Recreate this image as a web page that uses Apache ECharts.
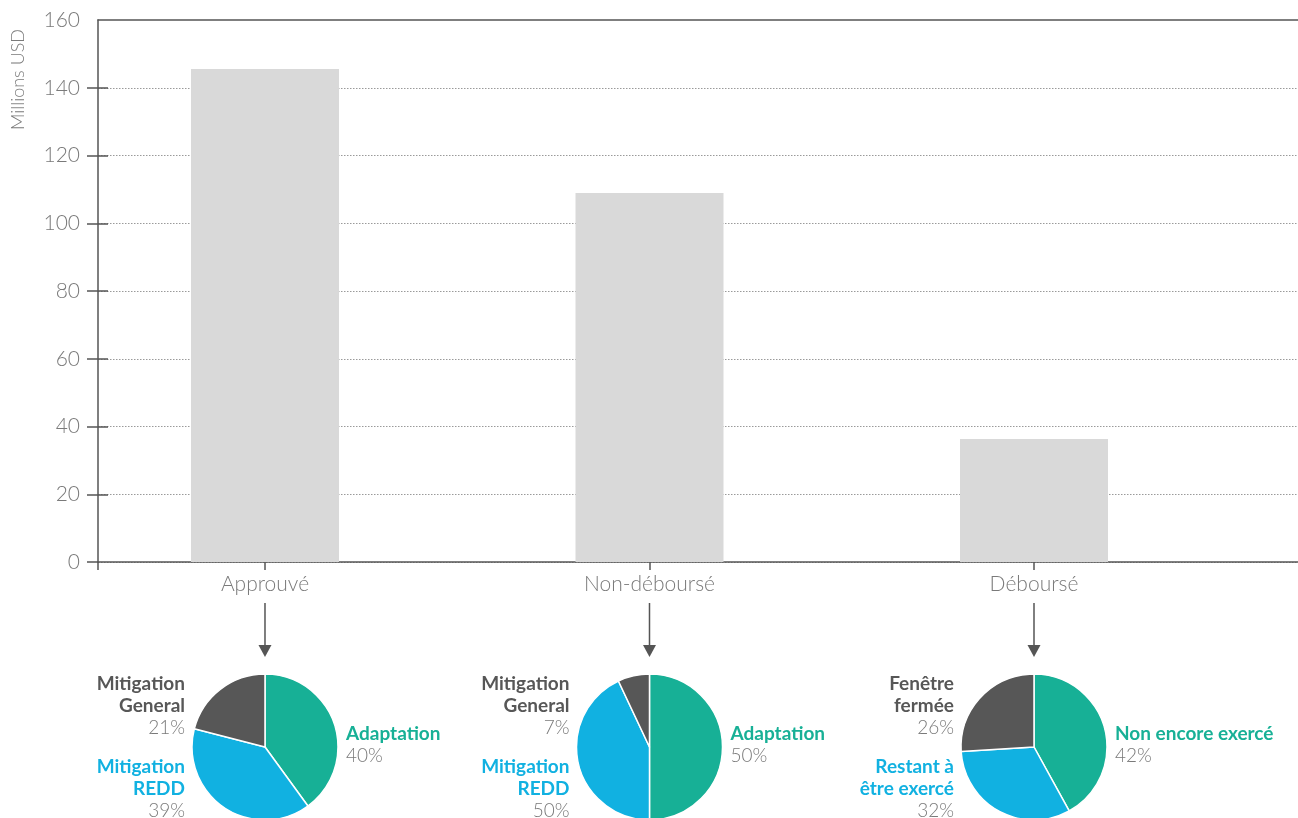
<!DOCTYPE html>
<html>
<head>
<meta charset="utf-8">
<script src="https://cdn.jsdelivr.net/npm/echarts@6/dist/echarts.min.js"></script>
<style>
html,body{margin:0;padding:0;background:#fff;}
#c{width:1298px;height:818px;}
</style>
</head>
<body>
<div id="c"></div>
<script>
// ---- data ----
const categories = ['Approuvé', 'Non-déboursé', 'Déboursé'];
const barValues = [145.5, 108.9, 36.3];
const yAxisName = 'Millions USD';

const pie1Names = ['Adaptation', 'Mitigation\nREDD', 'Mitigation\nGeneral'];
const pie1Values = [40, 39, 21];
const pie1Labels = ['40%', '39%', '21%'];

const pie2Names = ['Adaptation', 'Mitigation\nREDD', 'Mitigation\nGeneral'];
const pie2Values = [50, 43, 7];
const pie2Labels = ['50%', '50%', '7%'];

const pie3Names = ['Non encore exercé', 'Restant à\nêtre exercé', 'Fenêtre\nfermée'];
const pie3Values = [42, 32, 26];
const pie3Labels = ['42%', '32%', '26%'];

// ---- styles ----
const FONT = 'Lato';
const TEAL = '#17b096';
const BLUE = '#11b1e1';
const DARK = '#575757';
const GREY_TXT = '#7a7a7a';
const sliceColors = [TEAL, BLUE, DARK];

const gridLeft = 98, gridTop = 20, gridBottom = 256;
const xMin = -0.4343, xMax = 2.6866;
const pieY = 747, pieR = 73;

const chart = echarts.init(document.getElementById('c'), null, {renderer: 'canvas'});

function xPix(v) {
  return chart.convertToPixel({xAxisIndex: 0}, v);
}

const pies = [
  {names: pie1Names, values: pie1Values, labels: pie1Labels},
  {names: pie2Names, values: pie2Values, labels: pie2Labels},
  {names: pie3Names, values: pie3Values, labels: pie3Labels}
];

const option = {
  animation: false,
  backgroundColor: '#fff',
  grid: {left: gridLeft, top: gridTop, right: 0, bottom: gridBottom, containLabel: false},
  xAxis: [{
    type: 'value', min: xMin, max: xMax,
    axisLine: {show: true, onZero: false, lineStyle: {color: '#555', width: 1.5}},
    axisTick: {show: true, length: 8, customValues: [xMin, 0, 1, 2], lineStyle: {color: '#555', width: 1.5}},
    axisLabel: {
      show: true, customValues: [0, 1, 2], margin: 12,
      formatter: v => categories[Math.round(v)] || '',
      fontFamily: FONT, fontWeight: 300, fontSize: 21, color: GREY_TXT
    },
    splitLine: {show: false}
  }, {
    type: 'value', min: xMin, max: xMax, position: 'top',
    axisLine: {show: true, onZero: false, lineStyle: {color: '#555', width: 1.5}},
    axisTick: {show: false}, axisLabel: {show: false}, splitLine: {show: false}
  }],
  yAxis: [{
    type: 'value', min: 0, max: 160, interval: 20,
    axisLine: {show: true, onZero: false, lineStyle: {color: '#555', width: 1.5}},
    axisTick: {show: true, length: 11, customValues: [0, 20, 40, 60, 80, 100, 120, 140], lineStyle: {color: '#555', width: 1.5}},
    axisLabel: {margin: 18, fontFamily: FONT, fontWeight: 300, fontSize: 21, color: GREY_TXT},
    splitLine: {show: true, lineStyle: {color: '#9a9a9a', type: [1.5, 1.5], width: 1}}
  }, {
    type: 'value', min: 0, max: 160, interval: 20, position: 'left',
    axisLine: {show: false, onZero: false},
    axisTick: {show: true, inside: true, length: 10, customValues: [20, 40, 60, 80, 100, 120, 140], lineStyle: {color: '#555', width: 1.5}},
    axisLabel: {show: false},
    splitLine: {show: false}
  }],
  series: [{
    type: 'bar',
    xAxisIndex: 0, yAxisIndex: 0,
    barWidth: 148,
    itemStyle: {color: '#d9d9d9'},
    data: barValues.map((v, i) => [i, v]),
    z: 1
  }]
};
chart.setOption(option);

// pies + arrows + labels positioned under each category through the x axis scale
const pieSeries = [];
const graphics = [];
pies.forEach((p, k) => {
  const cx = xPix(k);
  pieSeries.push({
    type: 'pie',
    center: [cx, pieY],
    radius: pieR,
    startAngle: 90,
    clockwise: true,
    label: {show: false},
    labelLine: {show: false},
    itemStyle: {borderColor: '#fff', borderWidth: 1.5},
    data: p.values.map((v, i) => ({value: v, name: p.names[i], itemStyle: {color: sliceColors[i]}}))
  });
  // arrow
  graphics.push({
    type: 'line', shape: {x1: cx, y1: 603, x2: cx, y2: 646},
    style: {stroke: '#555', lineWidth: 1.5}
  });
  graphics.push({
    type: 'polygon', shape: {points: [[cx - 6.5, 645], [cx + 6.5, 645], [cx, 657]]},
    style: {fill: '#555'}
  });
  // labels: slice 0 right side, slice 2 upper-left, slice 1 lower-left
  const blocks = [
    {i: 0, x: cx + 81, y: 723, align: 'left'},
    {i: 2, x: cx - 80, y: 673, align: 'right'},
    {i: 1, x: cx - 80, y: 756, align: 'right'}
  ];
  blocks.forEach(b => {
    const lines = p.names[b.i].split('\n');
    const rich = lines.map(l => '{n|' + l + '}').join('\n') + '\n{p|' + p.labels[b.i] + '}';
    graphics.push({
      type: 'text', x: b.x, y: b.y,
      style: {
        text: rich, align: b.align, verticalAlign: 'top',
        rich: {
          n: {fontFamily: FONT, fontWeight: 'bold', fontSize: 19, lineHeight: 22, fill: sliceColors[b.i], align: b.align},
          p: {fontFamily: FONT, fontWeight: 300, fontSize: 19, lineHeight: 22, fill: GREY_TXT, align: b.align}
        }
      }
    });
  });
});

graphics.push({
  type: 'text', x: 18, y: 130, rotation: Math.PI / 2,
  style: {text: yAxisName, align: 'left', verticalAlign: 'middle',
    fontFamily: FONT, fontWeight: 300, fontSize: 18, fill: GREY_TXT}
});

chart.setOption({series: option.series.concat(pieSeries), graphic: graphics});
</script>
</body>
</html>
